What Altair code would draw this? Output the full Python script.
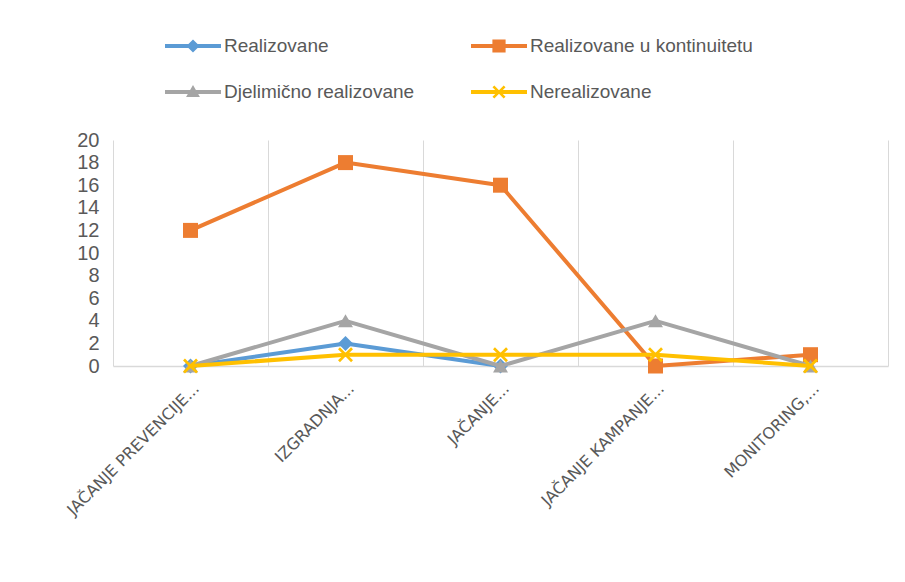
import math
import altair as alt
import pandas as pd

# ---------------- data ----------------
categories = [
    "JAČANJE PREVENCIJE...",
    "IZGRADNJA...",
    "JAČANJE...",
    "JAČANJE KAMPANJE...",
    "MONITORING,...",
]
series_names = [
    "Realizovane",
    "Realizovane u kontinuitetu",
    "Djelimično realizovane",
    "Nerealizovane",
]
realizovane = [0, 2, 0, None, None]
realizovane_u_kontinuitetu = [12, 18, 16, 0, 1]
djelimicno_realizovane = [0, 4, 0, 4, 0]
nerealizovane = [0, 1, 1, 1, 0]
y_ticks = [0, 2, 4, 6, 8, 10, 12, 14, 16, 18, 20]

series_values = [realizovane, realizovane_u_kontinuitetu, djelimicno_realizovane, nerealizovane]
colors = ["#5B9BD5", "#ED7D31", "#A5A5A5", "#FFC000"]

rows = []
for s, vals in zip(series_names, series_values):
    for c, v in zip(categories, vals):
        rows.append({"kategorija": c, "serija": s, "vrijednost": v})
df = pd.DataFrame(rows)


# ---------------- symbol paths ----------------
def poly(pts):
    area = sum(pts[i][0] * pts[(i + 1) % len(pts)][1] - pts[(i + 1) % len(pts)][0] * pts[i][1]
               for i in range(len(pts)))
    if area < 0:
        pts = pts[::-1]
    return "M" + "L".join(f"{x:.3f},{y:.3f}" for x, y in pts) + "Z"


def x_poly(cx, cy, L, t):
    plus = [(-t, -L), (t, -L), (t, -t), (L, -t), (L, t), (t, t), (t, L), (-t, L),
            (-t, t), (-L, t), (-L, -t), (-t, -t)]
    r = 1 / math.sqrt(2)
    return [(cx + (x - y) * r, cy + (x + y) * r) for x, y in plus]


def marker(kind, cx, m):
    if kind == "diamond":
        return poly([(cx, -m), (cx + m, 0), (cx, m), (cx - m, 0)])
    if kind == "square":
        return poly([(cx - m, -m), (cx + m, -m), (cx + m, m), (cx - m, m)])
    if kind == "triangle":
        return poly([(cx, -m * 1.05), (cx + m * 1.05, m * 0.75), (cx - m * 1.05, m * 0.75)])
    return poly(x_poly(cx, 0, m * 1.2, 0.13))


chart_x_path = poly(x_poly(0, 0, 1.23, 0.18))
point_shapes = ["diamond", "square", "triangle-up", chart_x_path]

legend_kinds = ["diamond", "square", "triangle", "x"]
line_rect = poly([(-1, -0.19), (4.6, -0.19), (4.6, 0.19), (-1, 0.19)])
legend_paths = [line_rect + marker(k, 1.8, 0.66) for k in legend_kinds]

shape_expr = "'" + legend_paths[-1] + "'"
for name, p in reversed(list(zip(series_names[:-1], legend_paths[:-1]))):
    shape_expr = f"datum.value === '{name}' ? '{p}' : " + shape_expr

font = "Liberation Sans"
gray_text = "#595959"

x_enc = alt.X(
    "kategorija:N",
    sort=categories,
    scale=alt.Scale(type="band", domain=categories, paddingInner=0, paddingOuter=0),
    axis=alt.Axis(
        title=None,
        tickBand="extent",
        grid=True,
        gridColor="#D9D9D9",
        gridWidth=1,
        ticks=False,
        domainColor="#D9D9D9",
        domainWidth=1.5,
        labelAngle=-45,
        labelFont="DejaVu Sans",
        labelFontSize=16,
        labelColor=gray_text,
        labelPadding=14,
        labelLimit=400,
    ),
)
y_enc = alt.Y(
    "vrijednost:Q",
    scale=alt.Scale(domain=[0, 20], nice=False),
    axis=alt.Axis(
        title=None,
        values=y_ticks,
        grid=False,
        domain=False,
        ticks=False,
        labelFont=font,
        labelFontSize=20,
        labelColor=gray_text,
        labelPadding=14,
    ),
)
color_enc = alt.Color(
    "serija:N",
    scale=alt.Scale(domain=series_names, range=colors),
    sort=series_names,
    legend=alt.Legend(
        title=None,
        orient="none",
        direction="horizontal",
        legendX=52,
        legendY=-104,
        columns=2,
        columnPadding=56,
        rowPadding=26,
        padding=0,
        symbolSize=400,
        symbolType=alt.ExprRef(expr=shape_expr),
        symbolStrokeWidth=0,
        symbolOpacity=1,
        labelOffset=39,
        labelFont=font,
        labelFontSize=19,
        labelColor=gray_text,
        labelLimit=400,
    ),
)

base = alt.Chart(df)
layers = []
for name, shp in zip(series_names, point_shapes):
    sel = base.transform_filter(alt.datum.serija == name)
    layers.append(
        sel.mark_line(strokeWidth=4, strokeJoin="round", strokeCap="round").encode(
            x=x_enc, y=y_enc, color=color_enc
        )
    )
    layers.append(
        sel.mark_point(filled=True, opacity=1, size=225, shape=shp).encode(
            x=x_enc, y=y_enc, color=color_enc
        )
    )

chart = (
    alt.layer(*layers)
    .properties(
        width=775,
        height=226,
        autosize=alt.AutoSizeParams(type="none"),
        padding={"left": 105, "top": 132, "right": 5, "bottom": 200},
        background="white",
    )
    .configure_view(stroke=None)
)

chart.save("out.html", embed_options={"renderer": "svg", "actions": False})
